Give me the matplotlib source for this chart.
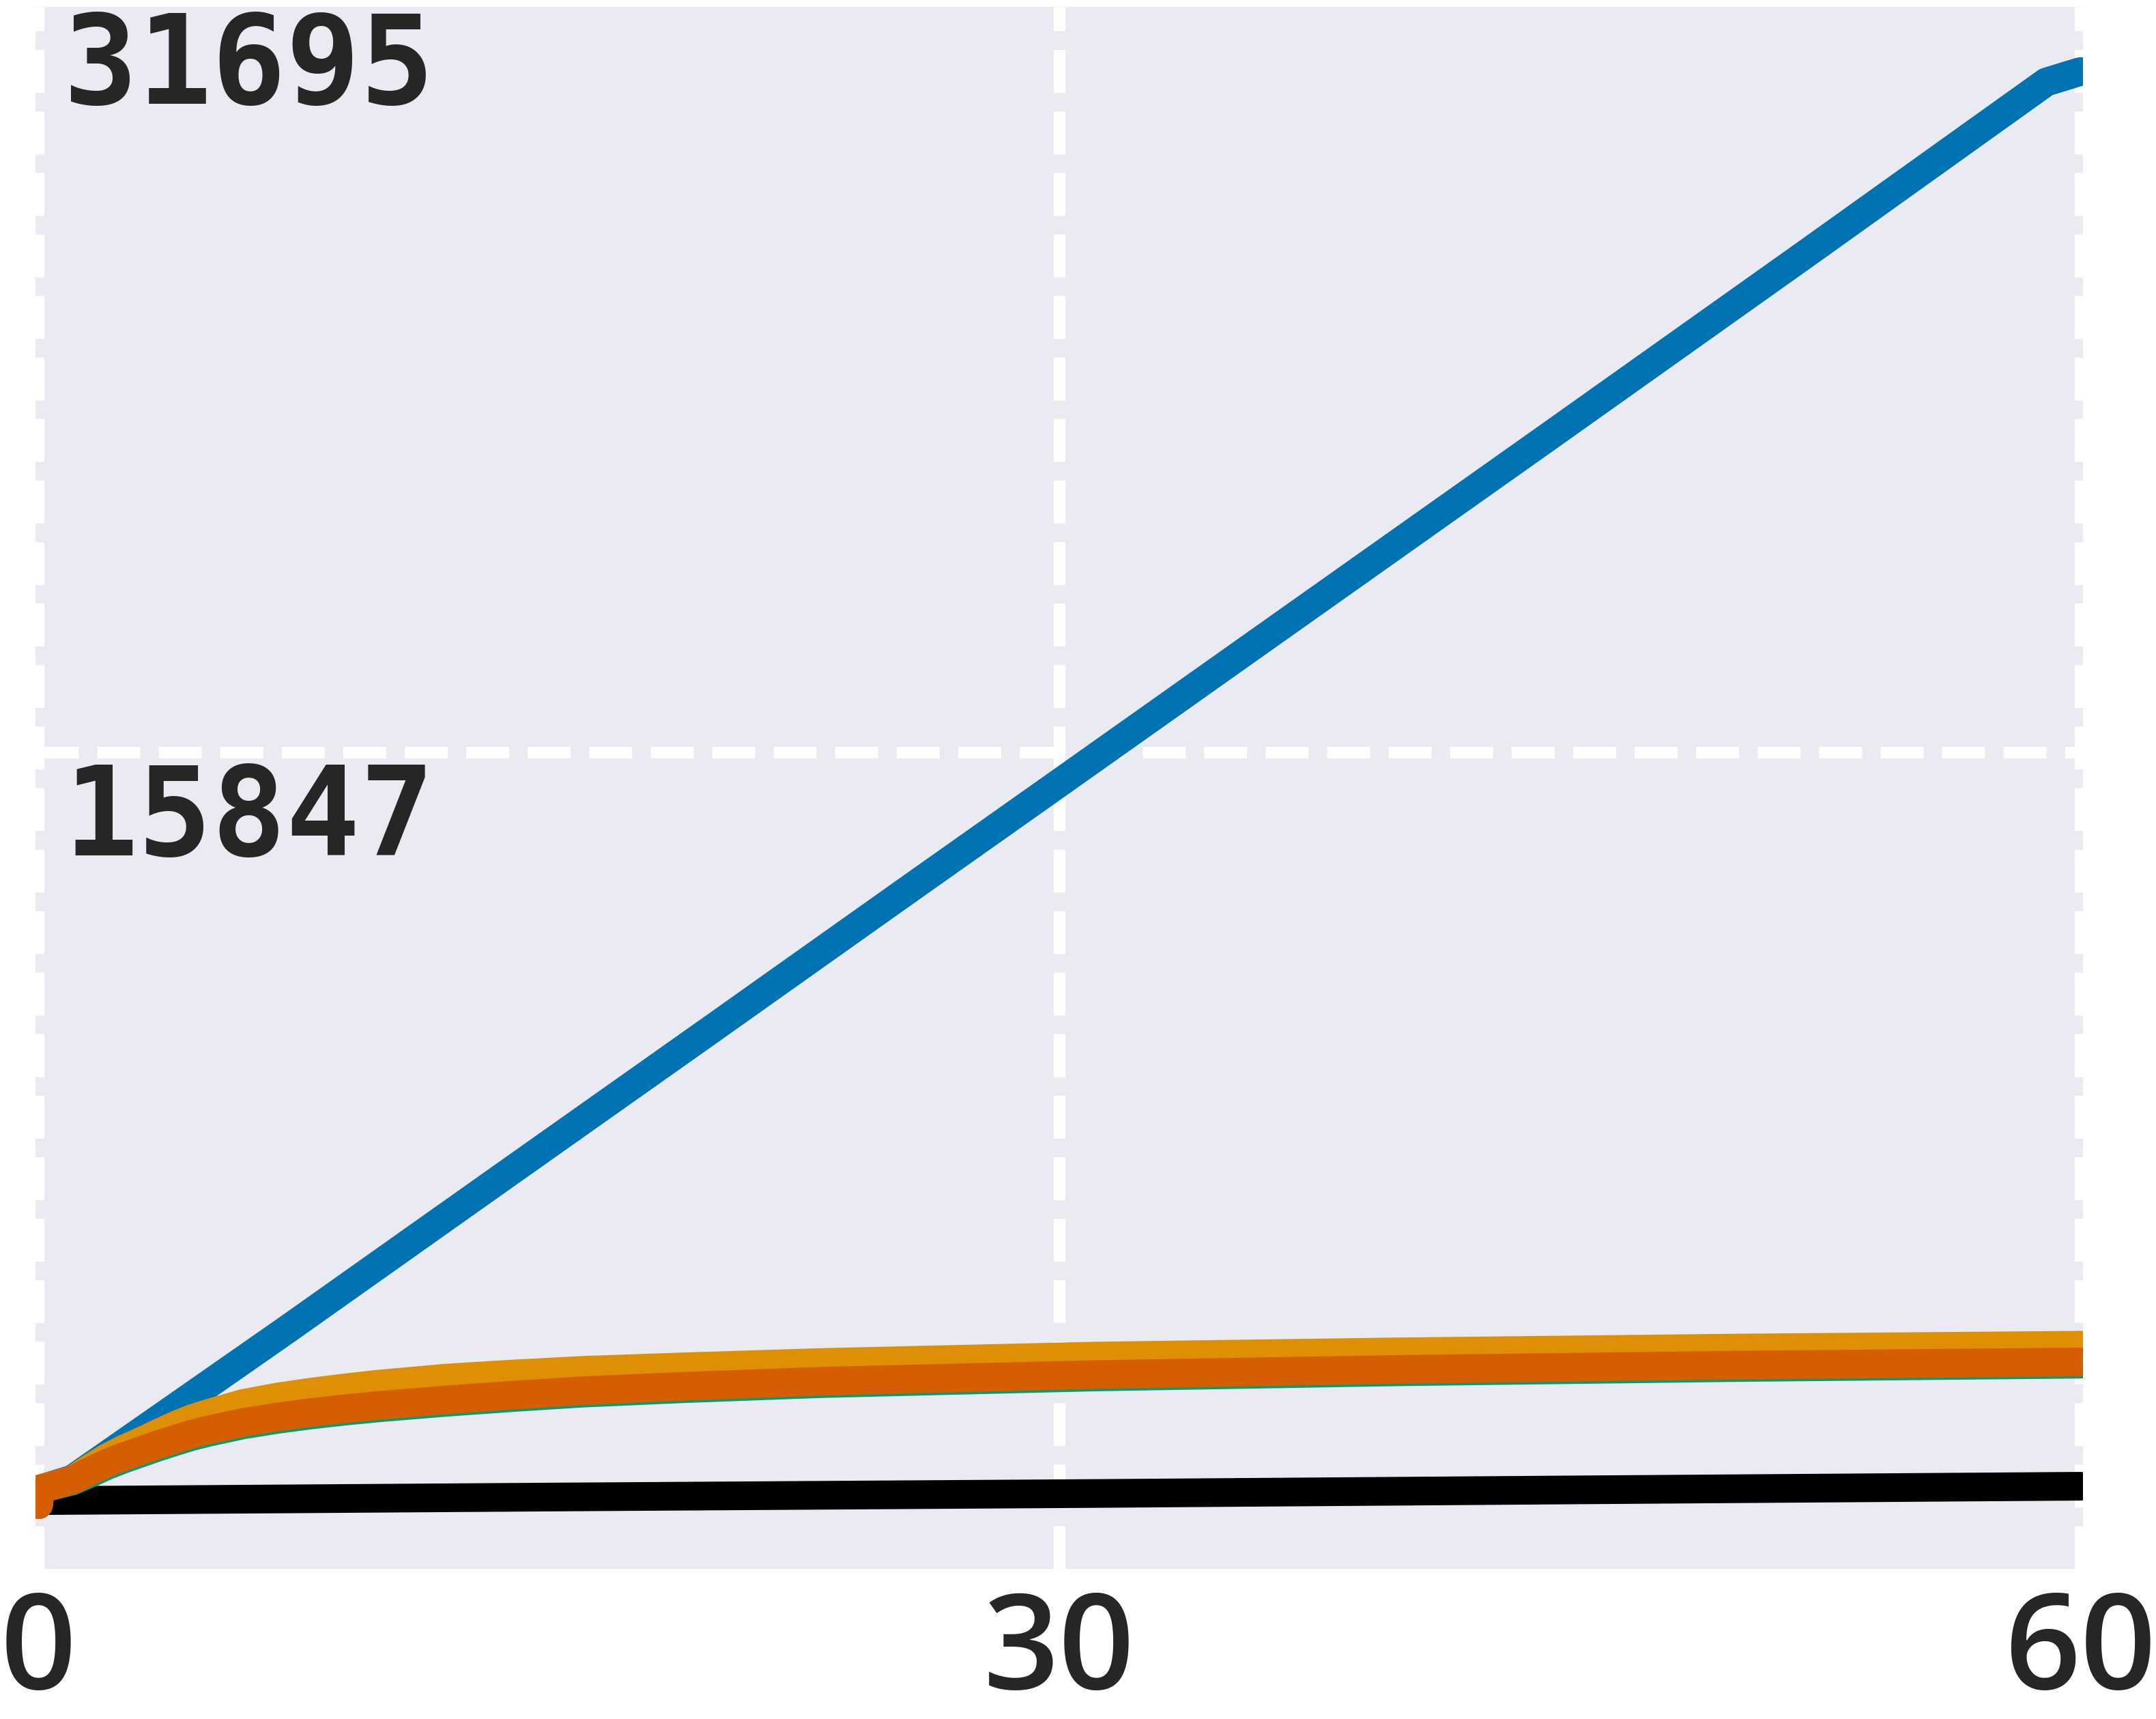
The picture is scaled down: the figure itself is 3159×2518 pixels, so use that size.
import matplotlib.pyplot as plt

# values
x_blue = [0, 0.05, 1, 3.5, 7.3, 13.8, 19.7, 25.5, 30, 36.5, 44.5, 52, 59, 60]
blue = [0, 330, 540, 1790, 3690, 6990, 9980, 12930, 15210, 18510, 22570, 26390, 29980, 30200]

x_curve = [0, 0.05, 1, 1.5, 2, 2.5, 3, 3.5, 4, 4.5, 5, 6, 7, 8, 9, 10, 12, 14, 16, 19, 23, 31, 40, 50, 60]
orange = [0, 330, 520, 760, 985, 1170, 1330, 1500, 1665, 1813, 1925, 2130, 2265, 2370, 2460, 2540,
          2668, 2755, 2830, 2905, 2995, 3130, 3220, 3300, 3360]
red = [0, 330, 520, 700, 870, 1010, 1135, 1260, 1375, 1485, 1575, 1730, 1845, 1940, 2020, 2090,
       2208, 2310, 2400, 2495, 2600, 2740, 2850, 2940, 3007]
green = [0, 330, 500, 655, 820, 960, 1085, 1210, 1325, 1435, 1525, 1680, 1795, 1890, 1970, 2040,
         2158, 2260, 2350, 2445, 2550, 2690, 2800, 2890, 2960]

x_black = [0, 15, 31, 45, 60]
black = [85, 160, 235, 310, 388]

x_ticks = [0, 30, 60]
y_ticks = [15847.5, 31695]
y_labels = ['15847', '31695']

W, H, DPI = 3159, 2518, 100
PT = 72 / DPI  # points per pixel

fig = plt.figure(figsize=(W / DPI, H / DPI), dpi=DPI)
ax = fig.add_axes([52 / W, 220 / H, 3000 / W, 2288 / H])
ax.set_facecolor('#EAEAF2')
for s in ax.spines.values():
    s.set_visible(False)

kw = dict(lw=42 * PT, solid_capstyle='round', solid_joinstyle='round')
ax.plot(x_black, black, color='black', **kw)
ax.plot(x_blue, blue, color='#0173B2', **kw)
ax.plot(x_curve, orange, color='#DE8F05', **kw)
ax.plot(x_curve, green, color='#029E73', **kw)
ax.plot(x_curve, red, color='#D55E00', **kw)

ax.set_xlim(-0.09, 60.08)
ax.set_ylim(-1352, 31564)

ax.set_xticks(x_ticks)
ax.set_xticklabels([str(t) for t in x_ticks], fontsize=140, family=['Open Sans', 'DejaVu Sans'],
                   fontweight='semibold', color='#262626')
ax.tick_params(axis='x', length=0, pad=20)

# y grid only at the middle tick, labels drawn inside the axes
ax.set_yticks(y_ticks[:1])
ax.set_yticklabels([''])
ax.tick_params(axis='y', length=0)

ax.grid(True, color='white', lw=17 * PT, ls='--')
ax.set_axisbelow(True)

for val, lab in zip(y_ticks, y_labels):
    ax.annotate(lab, xy=(0, val), xycoords=('axes fraction', 'data'),
                xytext=(41 * PT, -151 * PT), textcoords='offset points',
                ha='left', va='baseline', fontsize=130, family='DejaVu Sans Mono',
                fontweight='bold', color='#262626', annotation_clip=False)

fig.savefig('out.png', dpi=DPI)
